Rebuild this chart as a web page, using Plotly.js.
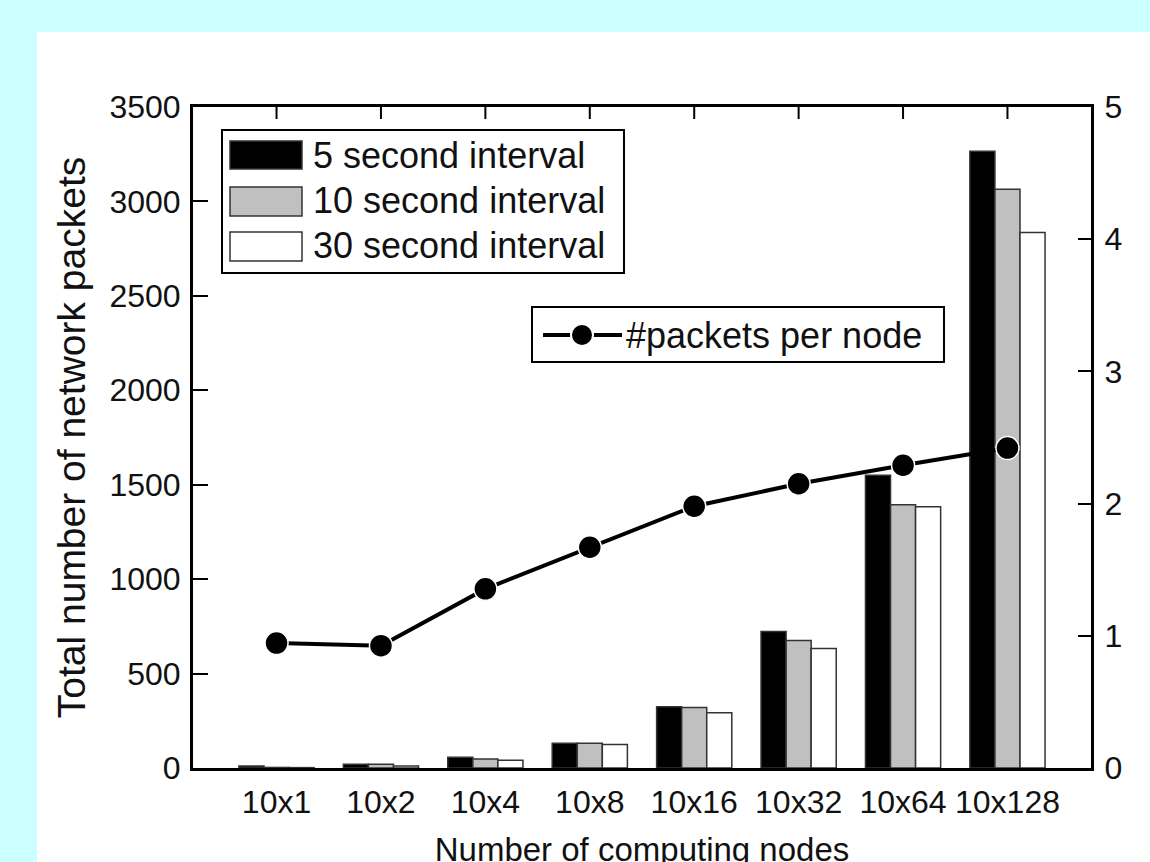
<!DOCTYPE html>
<html>
<head>
<meta charset="utf-8">
<script src="https://cdn.plot.ly/plotly-3.0.1.min.js"></script>
<style>
html,body{margin:0;padding:0;background:#ccffff;width:1150px;height:862px;overflow:hidden;}
#chart{position:absolute;left:37px;top:32px;width:1113px;height:850px;}
</style>
</head>
<body>
<div id="chart"></div>
<script>
var categories = ["10x1","10x2","10x4","10x8","10x16","10x32","10x64","10x128"];
var interval5 = [10, 20, 57, 131, 324, 723, 1550, 3266];
var interval10 = [3, 20, 48, 131, 320, 675, 1394, 3064];
var interval30 = [2, 10, 41, 124, 292, 633, 1383, 2835];
var packetsPerNode = [0.945, 0.925, 1.355, 1.67, 1.98, 2.15, 2.29, 2.42];
var seriesNames = ["5 second interval","10 second interval","30 second interval"];
var lineName = "#packets per node";

var FONT = "Liberation Sans, Arial, sans-serif";
var barLine = {color:"#333", width:1.5};

var traces = [
  {type:"bar", name:seriesNames[0], x:categories, y:interval5, marker:{color:"#000000", line:barLine}, showlegend:false},
  {type:"bar", name:seriesNames[1], x:categories, y:interval10, marker:{color:"#c0c0c0", line:barLine}, showlegend:false},
  {type:"bar", name:seriesNames[2], x:categories, y:interval30, marker:{color:"#ffffff", line:barLine}, showlegend:false},
  {type:"scatter", mode:"lines+markers", name:lineName, x:categories, y:packetsPerNode, yaxis:"y2",
   line:{color:"#000", width:4}, marker:{symbol:"circle", size:23, color:"#000", line:{color:"#fff", width:1.5}}, showlegend:false}
];

var PH = 661;
function P(px){return (px-193)/898;}
function Q(py){return (768-py)/PH;}

var shapes = [
  {type:"rect", xref:"paper", yref:"paper", x0:P(222), x1:P(624), y0:Q(130), y1:Q(273), line:{color:"#000", width:2}, fillcolor:"#fff", layer:"above"},
  {type:"rect", xref:"paper", yref:"paper", x0:P(230), x1:P(302), y0:Q(141), y1:Q(169), line:{color:"#333", width:1.5}, fillcolor:"#000", layer:"above"},
  {type:"rect", xref:"paper", yref:"paper", x0:P(230), x1:P(302), y0:Q(187), y1:Q(216), line:{color:"#333", width:1.5}, fillcolor:"#c0c0c0", layer:"above"},
  {type:"rect", xref:"paper", yref:"paper", x0:P(230), x1:P(302), y0:Q(232), y1:Q(261), line:{color:"#333", width:1.5}, fillcolor:"#fff", layer:"above"},
  {type:"rect", xref:"paper", yref:"paper", x0:P(532), x1:P(944), y0:Q(307), y1:Q(362), line:{color:"#000", width:2}, fillcolor:"#fff", layer:"above"},
  {type:"line", xref:"paper", yref:"paper", x0:P(543), x1:P(622), y0:Q(335), y1:Q(335), line:{color:"#000", width:4}, layer:"above"},
  {type:"circle", xref:"paper", yref:"paper", xsizemode:"pixel", ysizemode:"pixel", xanchor:P(582), yanchor:Q(335),
   x0:-11, x1:11, y0:-11, y1:11, line:{color:"#fff", width:2}, fillcolor:"#000", layer:"above"}
];
// inward tick marks along the top frame, one at each category
categories.forEach(function(c){
  shapes.push({type:"line", xref:"x", yref:"paper", x0:c, x1:c, ysizemode:"pixel", yanchor:1, y0:-12, y1:0,
    line:{color:"#000", width:2}, layer:"above"});
});

var annFont = {family:FONT, size:36, color:"#111"};
var annotations = [
  {xref:"paper", yref:"paper", x:P(311), y:Q(156), xanchor:"left", yanchor:"middle", text:seriesNames[0], showarrow:false, font:annFont},
  {xref:"paper", yref:"paper", x:P(311), y:Q(201), xanchor:"left", yanchor:"middle", text:seriesNames[1], showarrow:false, font:annFont},
  {xref:"paper", yref:"paper", x:P(311), y:Q(246), xanchor:"left", yanchor:"middle", text:seriesNames[2], showarrow:false, font:annFont},
  {xref:"paper", yref:"paper", x:P(624), y:Q(335), xanchor:"left", yanchor:"middle", text:lineName, showarrow:false, font:annFont}
];

var tickFont = {family:FONT, size:32, color:"#111"};

var layout = {
  width:1113, height:850,
  margin:{l:156, r:59, t:75, b:114, pad:0},
  paper_bgcolor:"#ffffff", plot_bgcolor:"#ffffff",
  font:{family:FONT, color:"#111"},
  barmode:"group", bargap:0.28, bargroupgap:0,
  showlegend:false,
  xaxis:{type:"category", categoryorder:"array", categoryarray:categories, range:[-0.8,7.8],
    showline:true, linewidth:3, linecolor:"#000", mirror:true, ticks:"", showgrid:false, zeroline:false,
    tickfont:tickFont, ticklabelstandoff:4,
    title:{text:"Number of computing nodes", font:{family:FONT, size:33, color:"#111"}, standoff:19}},
  yaxis:{range:[0,3500], tickmode:"linear", tick0:0, dtick:500, showline:true, linewidth:3, linecolor:"#000",
    ticks:"inside", ticklen:15, tickwidth:2, tickcolor:"#000", showgrid:false, zeroline:false,
    tickfont:tickFont, ticklabelstandoff:3,
    title:{text:"Total number of network packets", font:{family:FONT, size:39, color:"#111"}, standoff:12}},
  yaxis2:{overlaying:"y", side:"right", anchor:"x", range:[0,5], tickmode:"linear", tick0:0, dtick:1, showline:true, linewidth:3, linecolor:"#000",
    ticks:"inside", ticklen:13, tickwidth:2, tickcolor:"#000", showgrid:false, zeroline:false,
    tickfont:tickFont, ticklabelstandoff:4},
  shapes:shapes,
  annotations:annotations
};

Plotly.newPlot("chart", traces, layout, {staticPlot:true, displayModeBar:false});
</script>
</body>
</html>
